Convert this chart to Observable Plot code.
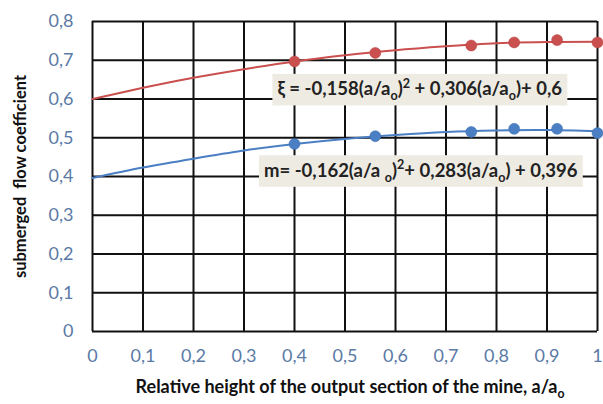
<!DOCTYPE html>
<html><head><meta charset="utf-8">
<script src="https://cdn.jsdelivr.net/npm/d3@7"></script>
<script src="https://cdn.jsdelivr.net/npm/@observablehq/plot@0.6"></script>
<style>
html,body{margin:0;padding:0;background:#fff;}
#chart svg{font-family:Lato,"Open Sans",sans-serif;}
</style></head>
<body><div id="chart"></div>
<script>
// measured points
const pointX = [0.4, 0.56, 0.75, 0.835, 0.92, 1.0];
const xiPoints = [0.697, 0.719, 0.738, 0.746, 0.752, 0.746];
const mPoints = [0.484, 0.504, 0.515, 0.523, 0.523, 0.512];
// trendline curves
const curveX = [0, 0.1, 0.2, 0.3, 0.4, 0.5, 0.6, 0.7, 0.8, 0.9, 1.0];
const xiCurve = [0.6, 0.629, 0.655, 0.677, 0.697, 0.713, 0.726, 0.736, 0.744, 0.747, 0.748];
const mCurve = [0.396, 0.423, 0.446, 0.467, 0.484, 0.497, 0.507, 0.515, 0.519, 0.520, 0.517];
const xTicks = [0, 0.1, 0.2, 0.3, 0.4, 0.5, 0.6, 0.7, 0.8, 0.9, 1];
const yTicks = [0, 0.1, 0.2, 0.3, 0.4, 0.5, 0.6, 0.7, 0.8];
const eqLabels = ["ξ = -0,158(a/aₒ)² + 0,306(a/aₒ)+ 0,6", "m= -0,162(a/a ₒ)²+ 0,283(a/aₒ) + 0,396"];
const eqX = [0.648, 0.65];
const eqY = [0.625, 0.415];
const xTitle = "Relative height of the output section of the mine, a/aₒ";
const yTitle = "submerged  flow coefficient";

const redC = "#c9504f", blueC = "#4a7fc4", tickC = "#5b7aa6";
const fmt = d => (d === 0 ? "0" : d === 1 ? "1" : d3.format(".1f")(d).replace(".", ","));

const xi = curveX.map((x, i) => ({x, y: xiCurve[i]}));
const mm = curveX.map((x, i) => ({x, y: mCurve[i]}));
const xiP = pointX.map((x, i) => ({x, y: xiPoints[i]}));
const mP = pointX.map((x, i) => ({x, y: mPoints[i]}));
const eqs = eqLabels.map((t, i) => ({t, x: eqX[i], y: eqY[i]}));

const chart = Plot.plot({
  width: 603, height: 404,
  marginLeft: 92, marginRight: 6, marginTop: 21, marginBottom: 73,
  x: {domain: [0, 1]},
  y: {domain: [0, 0.8]},
  marks: [
    Plot.gridX(xTicks, {stroke: "#111", strokeOpacity: 1, strokeWidth: 2}),
    Plot.gridY(yTicks, {stroke: "#111", strokeOpacity: 1, strokeWidth: 2}),
    Plot.axisX(xTicks, {tickSize: 0, tickPadding: 18, tickFormat: fmt, fill: tickC, fontSize: 18, label: null}),
    Plot.axisY(yTicks, {tickSize: 0, tickPadding: 19, tickFormat: fmt, fill: tickC, fontSize: 18, label: null}),
    Plot.line(xi, {x: "x", y: "y", stroke: redC, strokeWidth: 2, curve: "natural"}),
    Plot.line(mm, {x: "x", y: "y", stroke: blueC, strokeWidth: 2, curve: "natural"}),
    Plot.dot(xiP, {x: "x", y: "y", r: 5.5, fill: redC, stroke: "#b84040", strokeWidth: 0.5}),
    Plot.dot(mP, {x: "x", y: "y", r: 5.5, fill: blueC, stroke: "#3d6fb0", strokeWidth: 0.5}),
    Plot.text(eqs, {x: "x", y: "y", text: "t", fontSize: 18.5, fontWeight: "bold", fill: "#222", className: "eq"}),
    Plot.text([xTitle], {frameAnchor: "bottom", dy: 61, dx: 5, fontSize: 18, fontWeight: "bold", fill: "#111", className: "xt"}),
    Plot.text([yTitle], {frameAnchor: "left", textAnchor: "middle", rotate: -90, dx: -72, fontSize: 16.5, fontWeight: "bold", fill: "#111"})
  ]
});
document.getElementById("chart").appendChild(chart);

// render ₒ as subscript "o" and ² as superscript
const NS = "http://www.w3.org/2000/svg";
function richify(t, fs) {
  const s = t.textContent;
  if (!/[ₒ²]/.test(s)) return;
  while (t.firstChild) t.removeChild(t.firstChild);
  let shift = 0;
  for (const part of s.split(/([ₒ²])/)) {
    if (!part) continue;
    const ts = document.createElementNS(NS, "tspan");
    let target = 0;
    if (part === "ₒ") { ts.textContent = "o"; target = 0.28 * fs; ts.setAttribute("font-size", 0.68 * fs); }
    else if (part === "²") { ts.textContent = "2"; target = -0.4 * fs; ts.setAttribute("font-size", 0.68 * fs); }
    else ts.textContent = part;
    if (target - shift !== 0) ts.setAttribute("dy", target - shift);
    shift = target;
    t.appendChild(ts);
  }
}
chart.querySelectorAll("g.eq text").forEach(t => richify(t, 18.5));
chart.querySelectorAll("g.xt text").forEach(t => richify(t, 18));

// background boxes behind equation labels
const g = chart.querySelector("g.eq");
if (g) {
  const texts = [...g.querySelectorAll("text")];
  texts.forEach(t => {
    const b = t.getBBox();
    const r = document.createElementNS(NS, "rect");
    const tr = t.getAttribute("transform");
    if (tr) r.setAttribute("transform", tr);
    r.setAttribute("x", b.x - 5); r.setAttribute("y", b.y - 2);
    r.setAttribute("width", b.width + 10); r.setAttribute("height", b.height + 4);
    r.setAttribute("fill", "#eeebe2");
    g.insertBefore(r, g.firstChild);
  });
  texts.forEach(t => g.appendChild(t));
}
</script></body></html>
